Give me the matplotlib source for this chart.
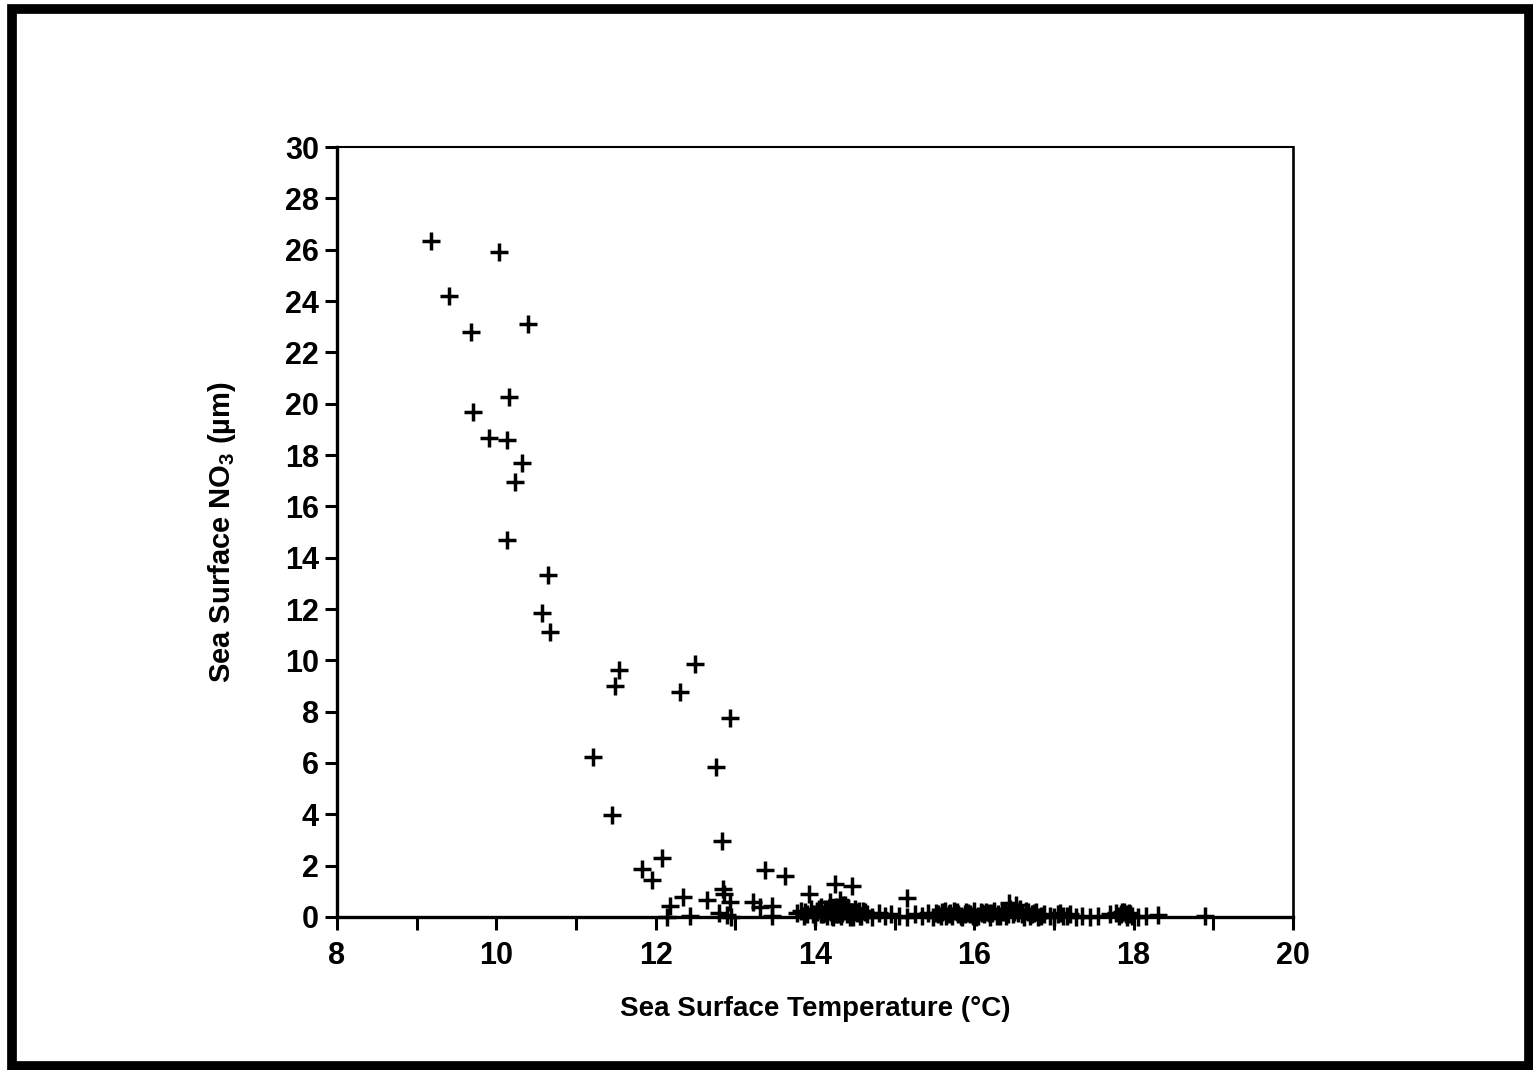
import matplotlib
matplotlib.use("Agg")
import matplotlib.pyplot as plt
import matplotlib.patches as patches

plt.rcParams['font.family'] = ['Liberation Sans', 'DejaVu Sans']
plt.rcParams['font.weight'] = 'bold'
plt.rcParams['mathtext.fontset'] = 'custom'
plt.rcParams['mathtext.rm'] = 'Liberation Sans:bold'
plt.rcParams['mathtext.bf'] = 'Liberation Sans:bold'
plt.rcParams['mathtext.default'] = 'bf'

# scattered points (temperature degC, nitrate)
temp_hi = [9.18, 9.41, 9.68, 9.71, 9.91, 10.03, 10.13, 10.16, 10.23, 10.32,
           10.40, 10.13, 10.65, 10.57, 10.67, 11.21, 11.45, 11.49, 11.54, 12.30,
           12.49, 12.94, 12.76, 12.83, 11.83, 11.96, 12.08, 13.37, 13.63, 12.18,
           12.35, 12.64, 12.84, 12.86, 12.93, 13.22, 13.31, 13.46, 13.92, 14.25,
           14.46, 15.16, 16.43, 18.30, 18.90, 14.32, 14.19]
no3_hi = [26.33, 24.19, 22.79, 19.67, 18.66, 25.90, 18.58, 20.26, 16.95, 17.69,
          23.10, 14.69, 13.32, 11.84, 11.10, 6.23, 3.97, 9.00, 9.62, 8.77,
          9.86, 7.75, 5.84, 2.96, 1.87, 1.44, 2.30, 1.83, 1.60, 0.43,
          0.78, 0.67, 1.09, 0.90, 0.60, 0.58, 0.40, 0.43, 0.90, 1.29,
          1.21, 0.74, 0.53, 0.08, 0.04, 0.66, 0.58]

# dense cluster near zero
temp_lo = [12.14, 12.43, 12.80, 12.90, 12.95, 13.46, 13.77, 13.82, 13.86, 13.90,
           13.95, 14.00, 14.03, 14.07, 14.10, 14.12, 14.15, 14.18, 14.20, 14.23,
           14.26, 14.28, 14.30, 14.33, 14.36, 14.38, 14.40, 14.42, 14.45, 14.48,
           14.50, 14.53, 14.56, 14.60, 14.65, 14.72, 14.80, 14.88, 14.95, 15.05,
           15.15, 15.25, 15.35, 15.42, 15.48, 15.55, 15.60, 15.65, 15.70, 15.75,
           15.80, 15.85, 15.90, 15.95, 16.00, 16.05, 16.10, 16.15, 16.20, 16.25,
           16.30, 16.35, 16.40, 16.45, 16.50, 16.55, 16.60, 16.65, 16.70, 16.75,
           16.80, 16.88, 16.95, 17.00, 17.05, 17.12, 17.20, 17.28, 17.35, 17.45,
           17.55, 17.70, 17.78, 17.82, 17.86, 17.90, 17.94, 17.98, 18.05, 18.15,
           14.08, 14.22, 14.34, 14.44, 14.52, 15.72, 15.88, 16.02, 16.18, 16.32,
           16.48, 16.62, 16.52, 17.92,
           13.88, 13.98, 14.05, 14.14, 14.17, 14.24, 14.29, 14.35, 14.39, 14.47,
           14.55, 14.58, 14.63, 15.52, 15.58, 15.63, 15.68, 15.78, 15.83, 15.92,
           15.98, 16.08, 16.12, 16.22, 16.28, 16.38, 16.42, 16.58, 16.68, 16.72,
           16.78, 16.84, 17.08, 17.16, 17.84, 17.88, 17.96, 14.02, 14.27, 14.41]
no3_lo = [0.00, 0.05, 0.15, 0.08, 0.00, 0.05, 0.15, 0.25, 0.05, 0.10,
          0.30, 0.00, 0.20, 0.40, 0.10, 0.30, 0.05, 0.35, 0.20, 0.00,
          0.40, 0.15, 0.30, 0.05, 0.25, 0.45, 0.10, 0.35, 0.20, 0.00,
          0.30, 0.15, 0.05, 0.25, 0.10, 0.00, 0.15, 0.05, 0.10, 0.05,
          0.00, 0.10, 0.05, 0.15, 0.00, 0.10, 0.20, 0.05, 0.15, 0.25,
          0.10, 0.00, 0.20, 0.10, 0.25, 0.05, 0.15, 0.20, 0.00, 0.25,
          0.10, 0.20, 0.05, 0.30, 0.20, 0.15, 0.10, 0.25, 0.05, 0.15,
          0.00, 0.10, 0.05, 0.00, 0.10, 0.05, 0.10, 0.00, 0.05, 0.00,
          0.05, 0.10, 0.15, 0.05, 0.20, 0.10, 0.15, 0.05, 0.00, 0.05,
          0.10, 0.05, 0.15, 0.00, 0.20, 0.05, 0.10, 0.00, 0.15, 0.05,
          0.10, 0.00, 0.45, 0.00,
          0.20, 0.10, 0.30, 0.15, 0.25, 0.35, 0.10, 0.45, 0.30, 0.20,
          0.25, 0.05, 0.20, 0.15, 0.05, 0.25, 0.10, 0.20, 0.05, 0.15,
          0.05, 0.20, 0.10, 0.15, 0.05, 0.20, 0.10, 0.30, 0.20, 0.10,
          0.20, 0.05, 0.15, 0.05, 0.10, 0.20, 0.10, 0.25, 0.10, 0.30]

x_ticks = list(range(8, 21))
x_labels = ['8', '', '10', '', '12', '', '14', '', '16', '', '18', '', '20']
y_ticks = list(range(0, 31, 2))

fig = plt.figure(figsize=(15.33, 10.70), dpi=100)
ax = fig.add_axes([0.2198, 0.1430, 0.6236, 0.7196])

ax.plot(temp_hi, no3_hi, linestyle='none', marker='+', color='black',
        markersize=13, markeredgewidth=2.5, clip_on=False)
ax.plot(temp_lo, no3_lo, linestyle='none', marker='+', color='black',
        markersize=13, markeredgewidth=2.5, clip_on=False)

ax.set_xlim(8, 20)
ax.set_ylim(0, 30)
ax.set_xticks(x_ticks)
ax.set_xticklabels(x_labels)
ax.set_yticks(y_ticks)
ax.tick_params(axis='both', direction='out', length=9, width=2.2, labelsize=22)
ax.tick_params(axis='x', pad=8)
ax.tick_params(axis='y', pad=4)
for lab in ax.get_xticklabels() + ax.get_yticklabels():
    lab.set_fontweight('bold')

for s in ['left', 'bottom']:
    ax.spines[s].set_linewidth(2.4)
ax.spines['top'].set_linewidth(1.5)
ax.spines['right'].set_linewidth(1.9)

ax.set_xlabel('Sea Surface Temperature (\u00b0C)', fontsize=20, fontweight='bold', labelpad=18)
ax.set_ylabel('Sea Surface NO$_3$ (\u00b5m)', fontsize=21, fontweight='bold', labelpad=34)

# thick frame around the whole figure
fig.patches.append(patches.Rectangle((0.0078, 0.0040), 0.9896, 0.9876,
                                     transform=fig.transFigure, fill=False,
                                     edgecolor='black', linewidth=7))

fig.savefig('out.png', dpi=100)
